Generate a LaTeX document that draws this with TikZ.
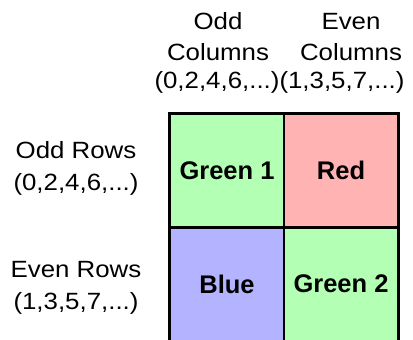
\documentclass[tikz,border=0pt]{standalone}
\usepackage{fontspec}
\setmainfont{Liberation Sans}
\newfontfamily\widefont[FakeStretch=1.1]{Liberation Sans}
\begin{document}
\begin{tikzpicture}[x=1pt,y=-1pt,
  lbl/.style={font=\widefont\fontsize{23.5}{29}\selectfont, inner sep=0pt, anchor=base},
  cell/.style={draw=black, line width=2pt, minimum width=114pt, minimum height=113pt, inner sep=0pt,
    font=\fontsize{25.5}{29}\selectfont\bfseries},
  ]
\useasboundingbox (0,0) rectangle (413,340);
\definecolor{cgreen}{RGB}{179,255,179}
\definecolor{cred}{RGB}{255,179,179}
\definecolor{cblue}{RGB}{179,179,255}
% cells
\node[cell, fill=cgreen] (g1) at (227,170.5) {Green 1};
\node[cell, fill=cred]   (r)  at (341,170.5) {Red};
\node[cell, fill=cblue]  (b)  at (227,284) {Blue};
\node[cell, fill=cgreen] (g2) at (341,284) {Green 2};
\draw[line width=2.5pt] (g1.north west) rectangle (g2.south east);
% column headers
\node[lbl] (c1a) at (218,30) {Odd};
\node[lbl] (c1b) at (218,60) {Columns};
\node[lbl] (c1c) at (217,88) {(0,2,4,6,...)};
\node[lbl] (c2a) at (351,30) {Even};
\node[lbl] (c2b) at (351,60) {Columns};
\node[lbl] (c2c) at (342,88) {(1,3,5,7,...)};
% row headers
\node[lbl] (r1a) at (76,158) {Odd Rows};
\node[lbl] (r1b) at (76,190) {(0,2,4,6,...)};
\node[lbl] (r2a) at (76,277) {Even Rows};
\node[lbl] (r2b) at (76,309) {(1,3,5,7,...)};
\end{tikzpicture}
\end{document}
